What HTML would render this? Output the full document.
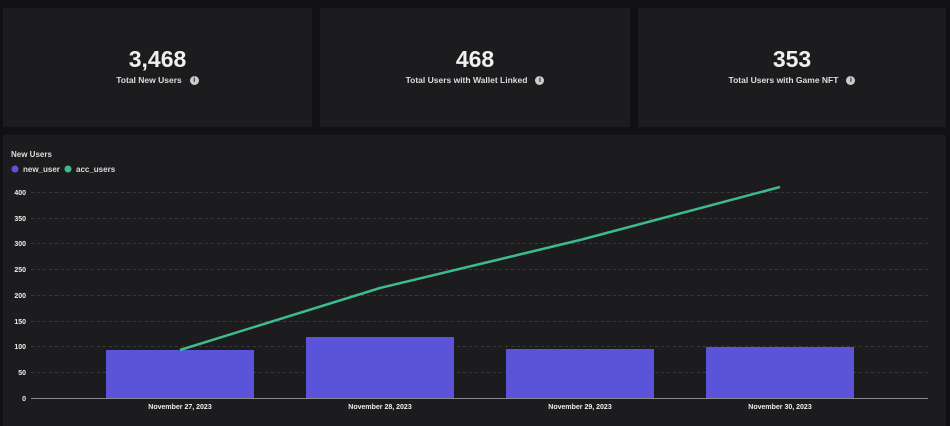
<!DOCTYPE html>
<html><head><style>
body{margin:0;width:950px;height:426px;background:#111113;font-family:"Liberation Sans",sans-serif;overflow:hidden;position:relative}
.card{position:absolute;top:8px;height:119px;background:#1c1c1e;color:#eee;text-align:center}
.num{position:absolute;top:38px;width:100%;font-size:23px;font-weight:bold;color:#f0f0f0}
.lab{position:absolute;top:67px;width:100%;font-size:8.5px;font-weight:bold;color:#ddd}
.i{display:inline-block;width:9px;height:9px;border-radius:50%;background:#ccc;color:#1c1c1e;font-size:7px;line-height:9px;margin-left:8px;vertical-align:middle}
.panel{position:absolute;left:3px;top:135px;width:943px;height:291px;background:#1c1c1e}
</style></head><body>
<div class="card" style="left:3px;width:309px"><div class="num">3,468</div><div class="lab">Total New Users<span class="i">i</span></div></div>
<div class="card" style="left:320px;width:310px"><div class="num">468</div><div class="lab">Total Users with Wallet Linked<span class="i">i</span></div></div>
<div class="card" style="left:638px;width:308px"><div class="num">353</div><div class="lab">Total Users with Game NFT<span class="i">i</span></div></div>
<div class="panel"></div>
<svg width="950" height="426" style="position:absolute;left:0;top:0" font-family="Liberation Sans, sans-serif">
<text x="11" y="157" fill="#ddd" font-size="8" font-weight="bold">New Users</text>
<circle cx="15" cy="169" r="3.5" fill="#5b54d8"/><text x="23" y="172" fill="#ddd" font-size="8" font-weight="bold">new_user</text>
<circle cx="68" cy="169" r="3.5" fill="#3dbb8f"/><text x="76" y="172" fill="#ddd" font-size="8" font-weight="bold">acc_users</text>
<g stroke="#3a3a3c" stroke-dasharray="3,3" stroke-width="1">
<line x1="31" x2="928" y1="192.5" y2="192.5"/><line x1="31" x2="928" y1="218.5" y2="218.5"/><line x1="31" x2="928" y1="243.5" y2="243.5"/><line x1="31" x2="928" y1="269.5" y2="269.5"/><line x1="31" x2="928" y1="295.5" y2="295.5"/><line x1="31" x2="928" y1="321.5" y2="321.5"/><line x1="31" x2="928" y1="346.5" y2="346.5"/><line x1="31" x2="928" y1="372.5" y2="372.5"/>
</g>
<g fill="#eee" font-size="7" font-weight="bold" text-anchor="end">
<text x="26" y="195">400</text><text x="26" y="221">350</text><text x="26" y="246">300</text><text x="26" y="272">250</text><text x="26" y="298">200</text><text x="26" y="324">150</text><text x="26" y="349">100</text><text x="26" y="375">50</text><text x="26" y="401">0</text>
</g>
<g fill="#5b54d8">
<rect x="106" y="350" width="148" height="48"/><rect x="306" y="337" width="148" height="61"/><rect x="506" y="349" width="148" height="49"/><rect x="706" y="347" width="148" height="51"/>
</g>
<line x1="31" x2="928" y1="398.5" y2="398.5" stroke="#888"/>
<polyline points="180,350 380,288 580,240 780,187" fill="none" stroke="#3dbb8f" stroke-width="2.5"/>
<g fill="#eee" font-size="7" font-weight="bold" text-anchor="middle">
<text x="180" y="409">November 27, 2023</text><text x="380" y="409">November 28, 2023</text><text x="580" y="409">November 29, 2023</text><text x="780" y="409">November 30, 2023</text>
</g>
</svg>
</body></html>
